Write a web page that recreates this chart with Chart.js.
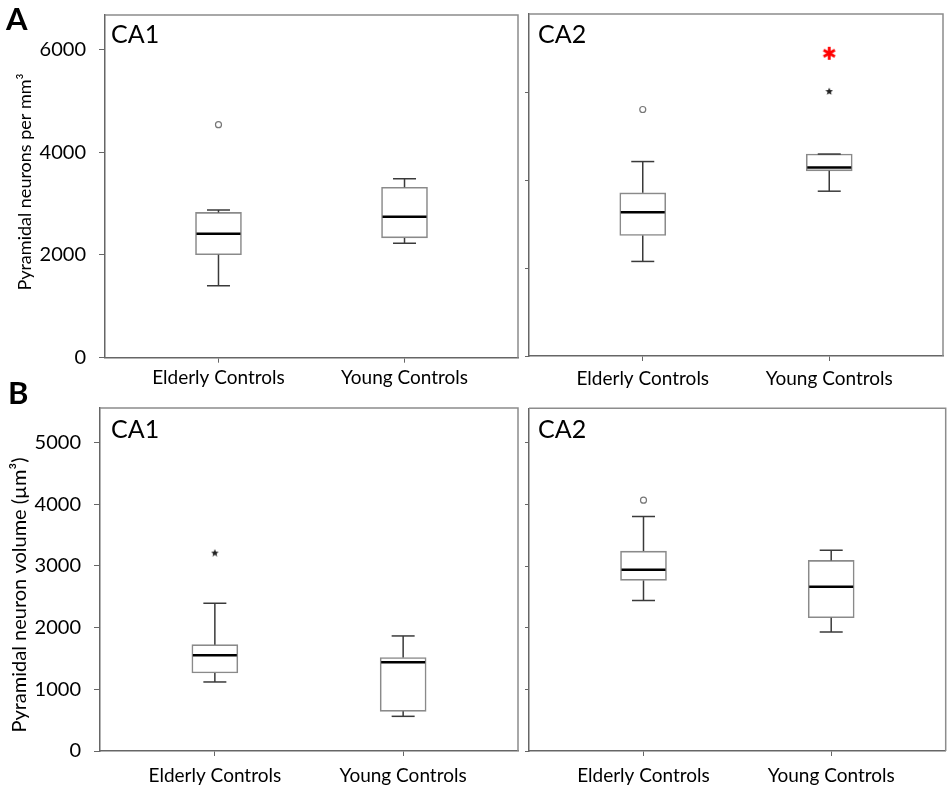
<!DOCTYPE html>
<html>
<head>
<meta charset="utf-8">
<title>Pyramidal neuron density and volume</title>
<script src="https://cdn.jsdelivr.net/npm/chart.js@4.4.1/dist/chart.umd.min.js"></script>
<style>
  html, body { margin: 0; padding: 0; background: #fff; }
  #page { position: relative; width: 949px; height: 791px; overflow: hidden; }
  #page canvas { position: absolute; }
  .panel-letter { position: absolute; font: bold 31px Lato, "Open Sans", sans-serif; line-height: 31px; color: #000; }
</style>
</head>
<body>
<div id="page">
  <canvas id="chart-a-ca1" width="520" height="395" style="left:0;top:0"></canvas>
  <canvas id="chart-a-ca2" width="429" height="395" style="left:520px;top:0"></canvas>
  <canvas id="chart-b-ca1" width="520" height="396" style="left:0;top:395px"></canvas>
  <canvas id="chart-b-ca2" width="429" height="396" style="left:520px;top:395px"></canvas>
  <div class="panel-letter" style="left:6px;top:3px">A</div>
  <div class="panel-letter" style="left:8px;top:377px">B</div>
</div>
<script>
Chart.defaults.font.family = 'Lato, "Open Sans", sans-serif';
Chart.defaults.color = '#000';
Chart.defaults.animation = false;

const groups = ['Elderly Controls', 'Young Controls'];

// box summaries per group: [min, q1, median, q3, max]
const densityCA1 = [[1402, 2003, 2412, 2828, 2877], [2228, 2332, 2743, 3316, 3485]];
const densityCA2 = [[2154, 2746, 3276, 3716, 4429], [3754, 4218, 4295, 4600, 4600]];
const volumeCA1 = [[1119, 1265, 1551, 1724, 2395], [562, 643, 1438, 1514, 1865]];
const volumeCA2 = [[2443, 2768, 2941, 3243, 3805], [1930, 2162, 2665, 3092, 3259]];

// outliers per group (o = mild, * = extreme)
const densityCA1Mild = [[4535], []];
const densityCA2Mild = [[5615], []];
const densityCA2Extreme = [[], [6036]];
const volumeCA1Extreme = [[3216], []];
const volumeCA2Mild = [[4070], []];
const none = [[], []];

// significance mark (red asterisk)
const densityCA2Sig = [[], [6895]];

const densityTicks = [0, 2000, 4000, 6000];
const volumeTicks = [0, 1000, 2000, 3000, 4000, 5000];
const densityCA1Max = 6670;
const densityCA2Max = 7790;
const volumeMax = 5560;

/** Small canvas glyphs used as point styles */
function asteriskGlyph(size, lineWidth, color) {
  const c = document.createElement('canvas');
  c.width = c.height = size;
  const ctx = c.getContext('2d');
  const r = size / 2 - 1;
  ctx.strokeStyle = color;
  ctx.lineWidth = lineWidth;
  ctx.translate(size / 2, size / 2);
  [90, 30, 150].forEach((deg) => {
    const a = deg * Math.PI / 180;
    ctx.beginPath();
    ctx.moveTo(-Math.cos(a) * r, -Math.sin(a) * r);
    ctx.lineTo(Math.cos(a) * r, Math.sin(a) * r);
    ctx.stroke();
  });
  return c;
}

function starGlyph(size, color) {
  const c = document.createElement('canvas');
  c.width = c.height = size;
  const ctx = c.getContext('2d');
  const outer = size / 2, inner = outer * 0.45;
  ctx.translate(size / 2, size / 2 + 0.5);
  ctx.beginPath();
  for (let k = 0; k < 10; k++) {
    const r = k % 2 ? inner : outer;
    const a = -Math.PI / 2 + k * Math.PI / 5;
    ctx.lineTo(Math.cos(a) * r, Math.sin(a) * r);
  }
  ctx.closePath();
  ctx.fillStyle = color;
  ctx.fill();
  return c;
}

const extremeStar = starGlyph(8, '#222');
const redAsterisk = asteriskGlyph(15, 2.8, '#ff0000');

/** Frame (top/right), region label and rotated y title */
const panelFrame = {
  id: 'panelFrame',
  afterDatasetsDraw(chart, args, opts) {
    const { ctx, chartArea: a } = chart;
    ctx.save();
    ctx.strokeStyle = '#8c8c8c';
    ctx.lineWidth = 1.5;
    ctx.beginPath();
    ctx.moveTo(a.left, a.top);
    ctx.lineTo(a.right, a.top);
    ctx.lineTo(a.right, a.bottom);
    ctx.stroke();
    ctx.font = '25px Lato, "Open Sans", sans-serif';
    ctx.fillStyle = '#000';
    ctx.textBaseline = 'alphabetic';
    ctx.fillText(opts.label, a.left + opts.labelX, a.top + opts.labelY);
    if (opts.title) {
      ctx.translate(opts.titleX, opts.titleY);
      ctx.rotate(-Math.PI / 2);
      ctx.font = `${opts.titleSize}px Lato, "Open Sans", sans-serif`;
      ctx.textAlign = 'center';
      ctx.textBaseline = 'middle';
      ctx.fillText(opts.title, 0, 0);
    }
    ctx.restore();
  },
};

function toPoints(lists) {
  return lists.flatMap((vals, i) => vals.map((v) => ({ x: i, y: v })));
}

/** Box, whiskers, caps, medians and outliers for one panel */
function boxDatasets(stats, mild, extreme, sig) {
  const whiskers = [], caps = [], medians = [], boxes = [];
  stats.forEach(([min, q1, med, q3, max], i) => {
    whiskers.push({ x: i, y: max }, { x: i, y: q3 }, { x: i, y: null },
                  { x: i, y: q1 }, { x: i, y: min }, { x: i, y: null });
    caps.push({ x: i, y: min }, { x: i, y: max });
    medians.push({ x: i, y: med });
    boxes.push({ x: i, y: [q1, q3] });
  });
  return [
    { type: 'bar', data: boxes, backgroundColor: '#fff', borderColor: '#8a8a8a',
      borderWidth: 1.6, borderSkipped: false, barThickness: 46, grouped: false, order: 5 },
    { data: whiskers, showLine: true, spanGaps: false, borderColor: '#3a3a3a',
      borderWidth: 1.5, pointRadius: 0, order: 4 },
    { data: caps, pointStyle: 'line', pointRadius: 11.5, pointBorderColor: '#3a3a3a',
      pointBorderWidth: 1.5, order: 3 },
    { data: medians, pointStyle: 'line', pointRadius: 22, pointBorderColor: '#000',
      pointBorderWidth: 2.6, order: 2 },
    { data: toPoints(mild), pointStyle: 'circle', pointRadius: 3, pointBackgroundColor: '#fff',
      pointBorderColor: '#777', pointBorderWidth: 1.2, order: 1 },
    { data: toPoints(extreme), pointStyle: extremeStar, pointRadius: 4, order: 1 },
    { data: toPoints(sig), pointStyle: redAsterisk, pointRadius: 7, order: 0 },
  ];
}

function makePanel(id, p) {
  const canvas = document.getElementById(id);
  return new Chart(canvas, {
    type: 'scatter',
    data: { datasets: boxDatasets(p.stats, p.mild, p.extreme, p.sig) },
    options: {
      responsive: false,
      events: [],
      layout: { autoPadding: false, padding: { top: p.padTop, right: p.padRight, bottom: 0, left: 0 } },
      plugins: {
        legend: { display: false },
        tooltip: { enabled: false },
        panelFrame: {
          label: p.label, labelX: p.labelX, labelY: p.labelY,
          title: p.title, titleX: p.titleX, titleY: p.titleY, titleSize: p.titleSize,
        },
      },
      scales: {
        x: {
          type: 'linear',
          offset: false,
          min: -0.61,
          max: 1.61,
          afterBuildTicks: (s) => { s.ticks = groups.map((_, i) => ({ value: i })); },
          afterFit: (s) => { s.height = p.xHeight; s.paddingLeft = 0; s.paddingRight = 0; },
          ticks: { callback: (v) => groups[v], font: { size: 19 }, padding: p.xPad, maxRotation: 0, autoSkip: false },
          grid: { offset: false, drawOnChartArea: false, tickLength: 5, color: '#666' },
          border: { color: '#666', width: 1.5 },
        },
        y: {
          type: 'linear',
          min: 0,
          max: p.yMax,
          afterBuildTicks: (s) => { s.ticks = p.yTicks.map((v) => ({ value: v })); },
          afterFit: (s) => { s.width = p.yWidth; s.paddingTop = 0; s.paddingBottom = 0; },
          ticks: {
            callback: (v) => (p.yLabels ? String(v) : ''),
            font: { size: 20 },
            padding: 13,
          },
          grid: { drawOnChartArea: false, tickLength: p.yLabels ? 6 : 4, color: '#666' },
          border: { color: '#666', width: 1.5 },
        },
      },
    },
    plugins: [panelFrame],
  });
}

makePanel('chart-a-ca1', {
  stats: densityCA1, mild: densityCA1Mild, extreme: none, sig: none,
  yMax: densityCA1Max, yTicks: densityTicks, yLabels: true,
  title: 'Pyramidal neurons per mm³', titleX: 25, titleY: 182, titleSize: 18,
  padTop: 15, padRight: 2, yWidth: 105, xHeight: 37.3, xPad: 4,
  label: 'CA1', labelX: 6, labelY: 28,
});

makePanel('chart-a-ca2', {
  stats: densityCA2, mild: densityCA2Mild, extreme: densityCA2Extreme, sig: densityCA2Sig,
  yMax: densityCA2Max, yTicks: densityTicks, yLabels: false,
  padTop: 14, padRight: 6, yWidth: 9, xHeight: 39, xPad: 6,
  label: 'CA2', labelX: 9, labelY: 29,
});

makePanel('chart-b-ca1', {
  stats: volumeCA1, mild: none, extreme: volumeCA1Extreme, sig: none,
  yMax: volumeMax, yTicks: volumeTicks, yLabels: true,
  title: 'Pyramidal neuron volume (µm³)', titleX: 20, titleY: 200, titleSize: 20,
  padTop: 13, padRight: 2, yWidth: 100, xHeight: 40, xPad: 8,
  label: 'CA1', labelX: 11, labelY: 30,
});

makePanel('chart-b-ca2', {
  stats: volumeCA2, mild: volumeCA2Mild, extreme: none, sig: none,
  yMax: volumeMax, yTicks: volumeTicks, yLabels: false,
  padTop: 13.3, padRight: 3.3, yWidth: 9, xHeight: 40, xPad: 8,
  label: 'CA2', labelX: 9, labelY: 30,
});
</script>
</body>
</html>
